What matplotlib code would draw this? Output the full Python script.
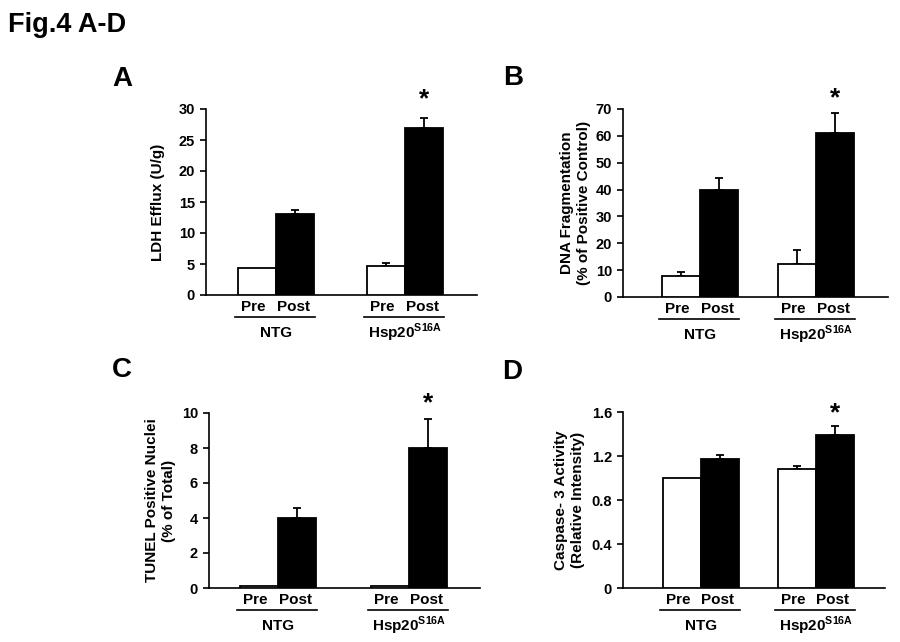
import numpy as np
import matplotlib.pyplot as plt
from matplotlib.transforms import offset_copy

plt.rcParams['font.family'] = ['Liberation Sans', 'DejaVu Sans']
plt.rcParams['font.weight'] = 'bold'
plt.rcParams['mathtext.fontset'] = 'custom'
plt.rcParams['mathtext.bf'] = 'Liberation Sans:bold'
plt.rcParams['mathtext.rm'] = 'Liberation Sans:bold'

# ── dados ─────────────────────────────────────────────────────────────
grupos = ['NTG', r'Hsp20$^{\mathbf{S16A}}$']
condicoes = ['Pre', 'Post']

ldh_pre = [4.3, 4.7]
ldh_pre_err = [0.0, 0.4]
ldh_post = [13.1, 27.0]
ldh_post_err = [0.55, 1.55]

dna_pre = [7.8, 12.3]
dna_pre_err = [1.6, 5.2]
dna_post = [39.8, 61.2]
dna_post_err = [4.6, 7.2]

tunel_pre = [0.1, 0.1]
tunel_pre_err = [0.0, 0.0]
tunel_post = [4.0, 8.0]
tunel_post_err = [0.57, 1.68]

casp_pre = [1.0, 1.085]
casp_pre_err = [0.0, 0.027]
casp_post = [1.17, 1.39]
casp_post_err = [0.04, 0.085]

W, H = 900, 642
fig = plt.figure(figsize=(W / 100, H / 100), dpi=100)


def rect(x0, x1, ytop, ybot):
    return [x0 / W, 1 - ybot / H, (x1 - x0) / W, (ybot - ytop) / H]


def painel(r, pre, pre_err, post, post_err, yticks, ylabels, ylabel,
           xmax, lefts, star_off, ylab_x):
    ax = fig.add_axes(r)
    ax.set_xlim(0, xmax)
    ax.set_ylim(0, yticks[-1])
    for i, left in enumerate(lefts):
        ax.bar(left + 0.5, pre[i], width=1, color='white',
               edgecolor='black', linewidth=1.3, zorder=3)
        ax.bar(left + 1.5, post[i], width=1, color='black',
               edgecolor='black', linewidth=1.3, zorder=3)
        if pre_err[i] > 0:
            ax.errorbar(left + 0.5, pre[i], yerr=[[0], [pre_err[i]]],
                        fmt='none', ecolor='black', elinewidth=1.3,
                        capsize=3, capthick=1.3, zorder=2)
        ax.errorbar(left + 1.5, post[i], yerr=[[0], [post_err[i]]],
                    fmt='none', ecolor='black', elinewidth=1.3,
                    capsize=3, capthick=1.3, zorder=2)
    # asterisco sobre Hsp20 Post
    ax.annotate('*', xy=(lefts[1] + 1.5, post[1] + post_err[1]),
                xytext=(0, star_off), textcoords='offset pixels',
                ha='center', va='center', fontsize=19, fontweight='bold',
                annotation_clip=False)
    for s in ['top', 'right']:
        ax.spines[s].set_visible(False)
    for s in ['left', 'bottom']:
        ax.spines[s].set_linewidth(1.2)
    ax.set_xticks([])
    ax.set_yticks(yticks)
    ax.set_yticklabels(ylabels, fontsize=10.5, fontweight='bold')
    ax.tick_params(axis='y', length=4, width=1.2, pad=4)
    ax.set_ylabel(ylabel, fontsize=11, fontweight='bold',
                  linespacing=1.3)
    ax.yaxis.set_label_coords(ylab_x, 0.5)

    tr = ax.get_xaxis_transform()
    t_cond = offset_copy(tr, fig=fig, y=-12, units='dots')
    t_lin = offset_copy(tr, fig=fig, y=-22, units='dots')
    t_grp = offset_copy(tr, fig=fig, y=-38, units='dots')
    for i, left in enumerate(lefts):
        for j, c in enumerate(condicoes):
            ax.text(left + 0.4 + 1.05 * j, 0, c, transform=t_cond,
                    ha='center', va='center', fontsize=11, fontweight='bold')
        ax.plot([left - 0.08, left + 2.03], [0, 0], color='black', lw=1.2,
                transform=t_lin, clip_on=False)
        ax.text(left + 1.0, 0, grupos[i], transform=t_grp, ha='center',
                va='center', fontsize=11, fontweight='bold')
    return ax


painel(rect(206, 477, 109, 295), ldh_pre, ldh_pre_err, ldh_post, ldh_post_err,
       [0, 5, 10, 15, 20, 25, 30], ['0', '5', '10', '15', '20', '25', '30'],
       'LDH Efflux (U/g)', 7.13, [0.84, 4.24], 19, -0.15)
painel(rect(623, 888, 109, 297), dna_pre, dna_pre_err, dna_post, dna_post_err,
       [0, 10, 20, 30, 40, 50, 60, 70],
       ['0', '10', '20', '30', '40', '50', '60', '70'],
       'DNA Fragmentation\n(% of Positive Control)', 6.97, [1.03, 4.08], 15,
       -0.12)
painel(rect(209, 480, 413, 588), tunel_pre, tunel_pre_err, tunel_post,
       tunel_post_err, [0, 2, 4, 6, 8, 10], ['0', '2', '4', '6', '8', '10'],
       'TUNEL Positive Nuclei\n(% of Total)', 7.13, [0.82, 4.26], 15, -0.12)
painel(rect(623, 885, 412, 588), casp_pre, casp_pre_err, casp_post,
       casp_post_err, [0, 0.4, 0.8, 1.2, 1.6], ['0', '0.4', '0.8', '1.2', '1.6'],
       'Caspase- 3 Activity\n(Relative Intensity)', 6.9, [1.05, 4.08], 12,
       -0.145)

fig.text(8 / W, 1 - 25 / H, 'Fig.4 A-D', fontsize=19.5, fontweight='bold',
         ha='left', va='center')
for letra, (px, py) in zip('ABCD', [(122, 79), (513, 78), (122, 370),
                                     (512, 372)]):
    fig.text(px / W, 1 - py / H, letra, fontsize=20, fontweight='bold',
             ha='center', va='center')

fig.savefig('out.png', dpi=100)
